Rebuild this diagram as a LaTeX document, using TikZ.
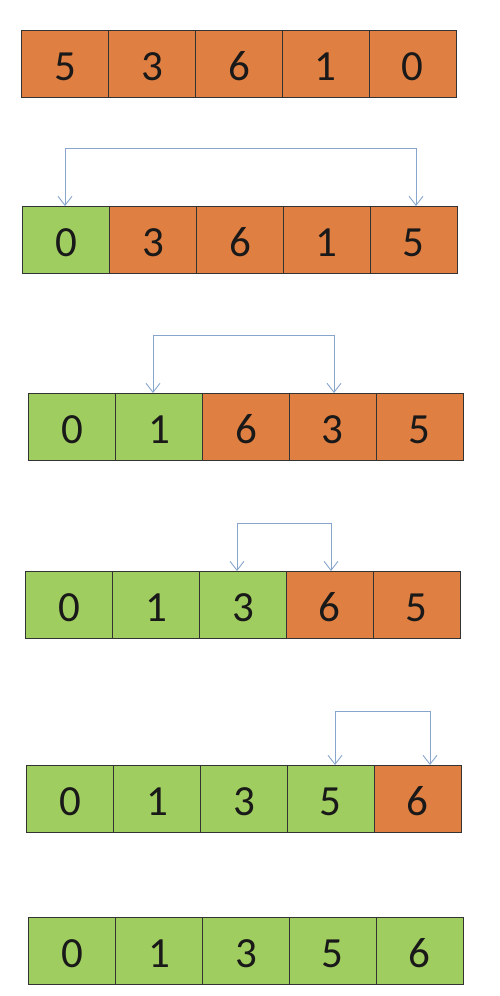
\documentclass[tikz,border=0pt]{standalone}
\usepackage{fontspec}
\setmainfont{Carlito}
\usetikzlibrary{arrows.meta}
\definecolor{cellorange}{RGB}{224,127,66}
\definecolor{cellgreen}{RGB}{160,205,95}
\definecolor{arrowblue}{RGB}{135,165,205}
\tikzset{
  cell/.style={draw=black!80, line width=0.9pt, minimum width=87pt, minimum height=67pt,
    inner sep=0pt, outer sep=0pt, font=\fontsize{43}{43}\selectfont, text=black!90,
    text height=33pt, text depth=0pt},
  swaparrow/.style={draw=arrowblue, line width=0.9pt, -{Straight Barb[length=9pt,width=14pt]}},
  swapline/.style={draw=arrowblue, line width=0.9pt}
}
\newcommand{\cellrow}[4]{%
  \foreach \v/\c [count=\i] in {#4} {
    \node[cell, fill=\c] (#1c\i) at ({#2+86.8*(\i-0.5)},{#3+33.5}) {\v};
  }}
\begin{document}
\begin{tikzpicture}[x=1pt,y=-1pt]
\useasboundingbox (0,0) rectangle (500,996);
\cellrow{r1}{22}{30}{5/cellorange,3/cellorange,6/cellorange,1/cellorange,0/cellorange}
\cellrow{r2}{23}{206}{0/cellgreen,3/cellorange,6/cellorange,1/cellorange,5/cellorange}
\cellrow{r3}{29}{393}{0/cellgreen,1/cellgreen,6/cellorange,3/cellorange,5/cellorange}
\cellrow{r4}{26}{571}{0/cellgreen,1/cellgreen,3/cellgreen,6/cellorange,5/cellorange}
\cellrow{r5}{27}{765}{0/cellgreen,1/cellgreen,3/cellgreen,5/cellgreen,6/cellorange}
\cellrow{r6}{29}{917}{0/cellgreen,1/cellgreen,3/cellgreen,5/cellgreen,6/cellgreen}
% swap brackets
\coordinate (a2l) at (65,148);  \coordinate (a2r) at (416,148);
\coordinate (a3l) at (153,335); \coordinate (a3r) at (334,335);
\coordinate (a4l) at (237,523); \coordinate (a4r) at (331,523);
\coordinate (a5l) at (335,711); \coordinate (a5r) at (430,711);
\draw[swapline] (a2l) -- (a2r);
\draw[swaparrow] (a2l) -- (a2l |- r2c1.north);
\draw[swaparrow] (a2r) -- (a2r |- r2c5.north);
\draw[swapline] (a3l) -- (a3r);
\draw[swaparrow] (a3l) -- (a3l |- r3c2.north);
\draw[swaparrow] (a3r) -- (a3r |- r3c4.north);
\draw[swapline] (a4l) -- (a4r);
\draw[swaparrow] (a4l) -- (a4l |- r4c3.north);
\draw[swaparrow] (a4r) -- (a4r |- r4c4.north);
\draw[swapline] (a5l) -- (a5r);
\draw[swaparrow] (a5l) -- (a5l |- r5c4.north);
\draw[swaparrow] (a5r) -- (a5r |- r5c5.north);
\end{tikzpicture}
\end{document}
